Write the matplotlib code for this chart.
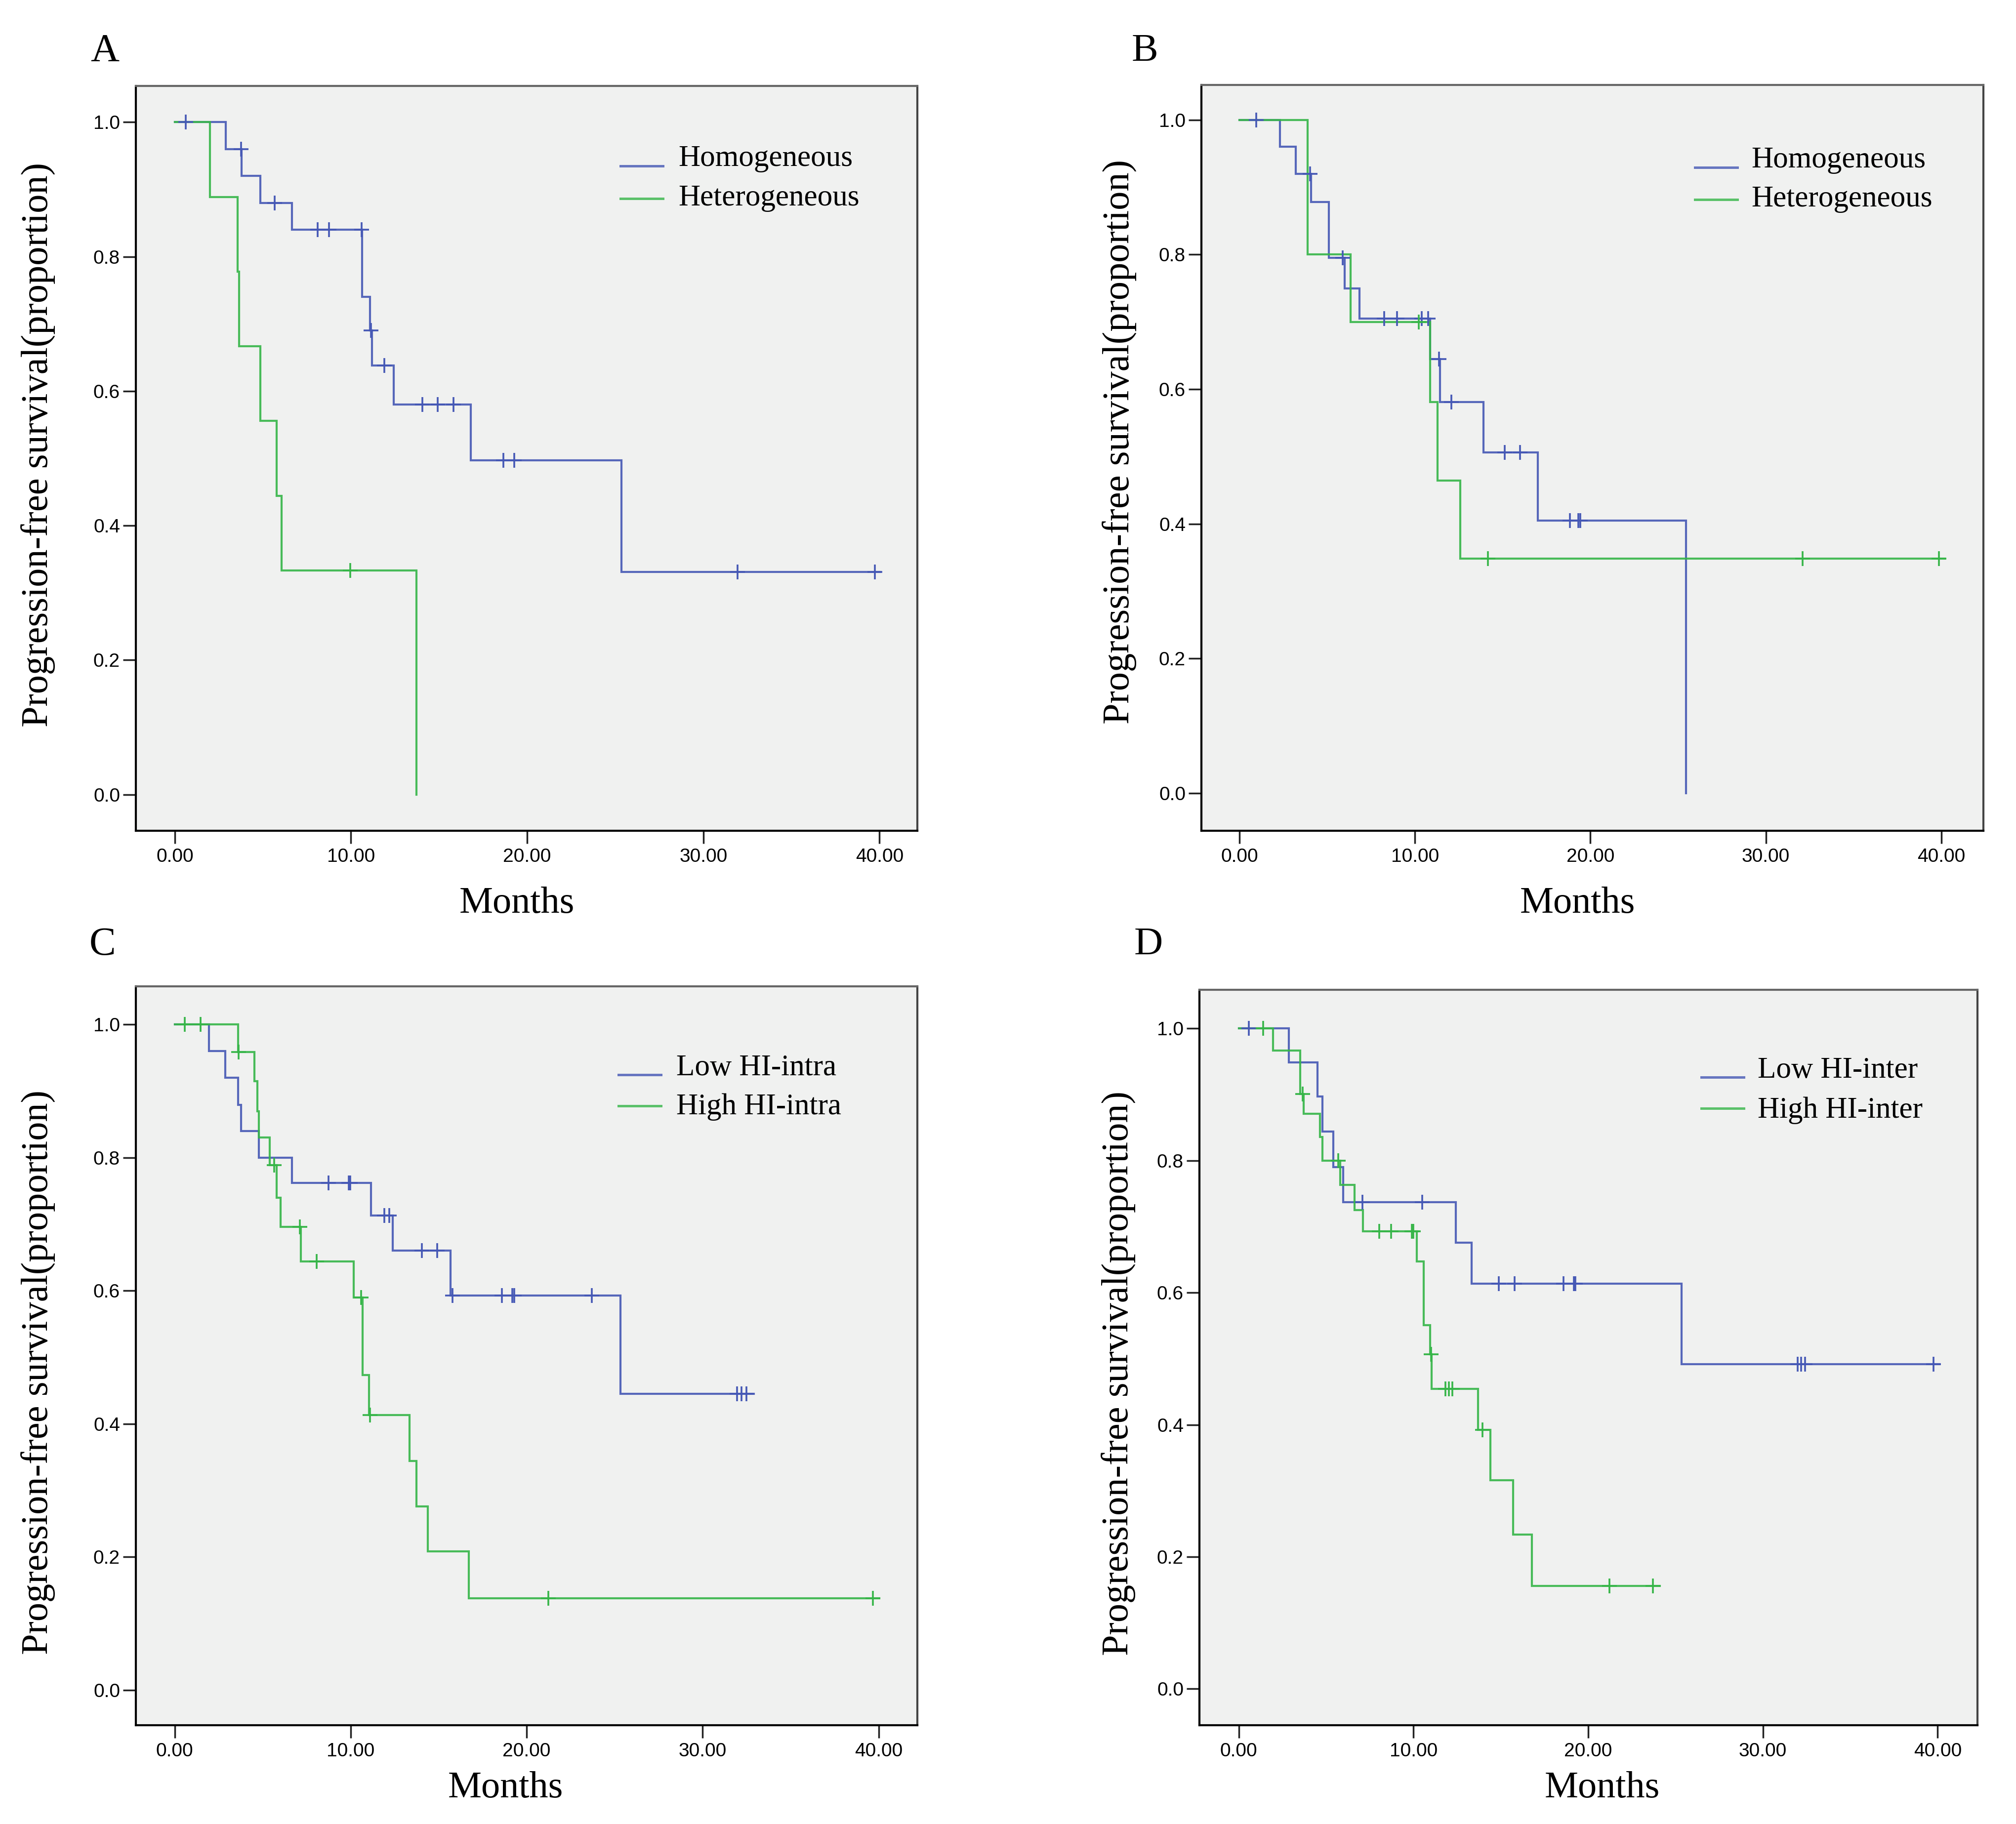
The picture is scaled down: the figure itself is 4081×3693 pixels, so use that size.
import numpy as np
import matplotlib
matplotlib.use("Agg")
import matplotlib.pyplot as plt

# ---------------- data ----------------
x_ticks = [0, 10, 20, 30, 40]
x_tick_labels = ["0.00", "10.00", "20.00", "30.00", "40.00"]
y_ticks = [0.0, 0.2, 0.4, 0.6, 0.8, 1.0]
y_tick_labels = ["0.0", "0.2", "0.4", "0.6", "0.8", "1.0"]

# Panel A
A_homo_t = [0, 2.9, 3.8, 4.87, 6.65, 10.63, 11.09, 11.2, 12.44, 16.79, 25.36]
A_homo_s = [1.0, 0.96, 0.92, 0.88, 0.84, 0.74, 0.69, 0.638, 0.58, 0.497, 0.331]
A_homo_end = 40.06
A_homo_cens = [0.63, 3.75, 5.67, 8.1, 8.74, 10.6, 11.15, 11.9, 14.04, 14.93, 15.82, 18.65, 19.28, 31.95, 39.74]
A_het_t = [0, 2.0, 3.58, 3.65, 4.87, 5.79, 6.05, 13.72]
A_het_s = [1.0, 0.889, 0.778, 0.667, 0.556, 0.444, 0.333, 0.0]
A_het_end = 13.72
A_het_cens = [9.97]

# Panel B
B_homo_t = [0, 2.32, 3.22, 4.09, 5.1, 6.0, 6.84, 10.87, 11.42, 13.91, 16.99, 25.45]
B_homo_s = [1.0, 0.96, 0.92, 0.878, 0.795, 0.75, 0.705, 0.645, 0.581, 0.506, 0.405, 0.0]
B_homo_end = 25.45
B_homo_cens = [0.96, 4.03, 5.88, 8.26, 8.99, 10.38, 10.75, 11.38, 12.09, 15.13, 16.0, 18.84, 19.3, 19.42]
B_het_t = [0, 3.88, 6.32, 10.87, 11.28, 12.58]
B_het_s = [1.0, 0.80, 0.70, 0.581, 0.464, 0.348]
B_het_end = 40.2
B_het_cens = [10.23, 14.17, 32.1, 39.86]

# Panel C
C_low_t = [0, 1.95, 2.87, 3.61, 3.76, 4.79, 6.65, 11.16, 12.39, 15.66, 25.33]
C_low_s = [1.0, 0.96, 0.92, 0.879, 0.84, 0.80, 0.762, 0.713, 0.66, 0.593, 0.445]
C_low_end = 32.9
C_low_cens = [8.75, 9.9, 9.98, 11.9, 12.2, 14.03, 14.92, 15.78, 18.59, 19.19, 19.3, 23.7, 31.96, 32.2, 32.5]
C_high_t = [0, 3.59, 4.53, 4.7, 4.79, 5.39, 5.8, 6.02, 7.17, 10.18, 10.67, 11.04, 13.34, 13.74, 14.37, 16.72]
C_high_s = [1.0, 0.959, 0.915, 0.87, 0.83, 0.789, 0.74, 0.696, 0.644, 0.59, 0.473, 0.413, 0.344, 0.276, 0.208, 0.138]
C_high_end = 40.05
C_high_cens = [0.57, 1.46, 3.64, 5.65, 7.11, 8.06, 10.58, 11.1, 21.23, 39.67]

# Panel D
D_low_t = [0, 2.86, 4.5, 4.79, 5.4, 5.99, 12.41, 13.34, 25.34]
D_low_s = [1.0, 0.949, 0.897, 0.844, 0.79, 0.737, 0.676, 0.614, 0.492]
D_low_end = 40.09
D_low_cens = [0.58, 7.07, 10.51, 14.89, 15.8, 18.6, 19.18, 19.27, 32.0, 32.2, 32.4, 39.77]
D_high_t = [0, 1.96, 3.53, 3.71, 4.64, 4.79, 5.81, 6.63, 7.12, 10.19, 10.6, 10.95, 11.04, 13.69, 14.39, 15.71, 16.79]
D_high_s = [1.0, 0.967, 0.901, 0.871, 0.836, 0.80, 0.763, 0.725, 0.693, 0.647, 0.551, 0.507, 0.454, 0.392, 0.316, 0.234, 0.156]
D_high_end = 24.09
D_high_cens = [1.4, 3.65, 5.69, 8.03, 8.73, 9.9, 9.99, 11.0, 11.83, 12.03, 12.23, 13.96, 21.23, 23.71]

panel_letters = ["A", "B", "C", "D"]
legend_A = ["Homogeneous", "Heterogeneous"]
legend_B = ["Homogeneous", "Heterogeneous"]
legend_C = ["Low HI-intra", "High HI-intra"]
legend_D = ["Low HI-inter", "High HI-inter"]
x_label = "Months"
y_label = "Progression-free survival(proportion)"

# ---------------- style ----------------
W, H = 4081, 3693
DPI = 100
BLUE = "#4558b5"
GREEN = "#36b548"
SERIF = ["Liberation Serif", "DejaVu Serif"]
SANS = ["Liberation Sans", "DejaVu Sans"]

fig = plt.figure(figsize=(W / DPI, H / DPI), dpi=DPI)
fig.patch.set_facecolor("white")


def rect(l, t, r, b):
    return [l / W, 1 - b / H, (r - l) / W, (b - t) / H]


def fx(px):
    return px / W


def fy(py):
    return 1 - py / H


def km(ax, t, s, end, cens, color):
    tt = list(t) + [end]
    ss = list(s) + [s[-1]]
    ax.step(tt, ss, where="post", color=color, lw=3.0, alpha=0.9,
            solid_joinstyle="miter", zorder=3)
    t_arr = np.asarray(t)
    s_arr = np.asarray(s)
    cy = [s_arr[np.searchsorted(t_arr, c, side="right") - 1] for c in cens]
    ax.plot(cens, cy, ls="none", marker="+", ms=22, mew=2.6, color=color,
            zorder=4)


# leg = (line x0, line x1, line y1, line y2, text x, text baseline y1, text baseline y2)
panels = [
    dict(rect=rect(275, 174, 1857, 1682), xlim=(-2.21, 42.15), ylim=(-0.054, 1.054),
         curves=[(A_homo_t, A_homo_s, A_homo_end, A_homo_cens, BLUE),
                 (A_het_t, A_het_s, A_het_end, A_het_cens, GREEN)],
         legend=legend_A, leg=(1256, 1342, 336, 402, 1373, 336, 416),
         letter=(212, 104), ylab=(78, 900), xlab=(1046, 1848)),
    dict(rect=rect(2432, 172, 4015, 1682), xlim=(-2.17, 42.4), ylim=(-0.056, 1.052),
         curves=[(B_homo_t, B_homo_s, B_homo_end, B_homo_cens, BLUE),
                 (B_het_t, B_het_s, B_het_end, B_het_cens, GREEN)],
         legend=legend_B, leg=(3431, 3517, 339, 404, 3545, 339, 418),
         letter=(2317, 104), ylab=(2267, 894), xlab=(3193, 1848)),
    dict(rect=rect(275, 1997, 1857, 3493), xlim=(-2.21, 42.2), ylim=(-0.053, 1.0575),
         curves=[(C_low_t, C_low_s, C_low_end, C_low_cens, BLUE),
                 (C_high_t, C_high_s, C_high_end, C_high_cens, GREEN)],
         legend=legend_C, leg=(1252, 1338, 2176, 2239, 1369, 2177, 2256),
         letter=(208, 1913), ylab=(78, 2779), xlab=(1023, 3639)),
    dict(rect=rect(2428, 2004, 4003, 3493), xlim=(-2.25, 42.28), ylim=(-0.055, 1.0587),
         curves=[(D_low_t, D_low_s, D_low_end, D_low_cens, BLUE),
                 (D_high_t, D_high_s, D_high_end, D_high_cens, GREEN)],
         legend=legend_D, leg=(3444, 3530, 2181, 2244, 3558, 2182, 2263),
         letter=(2325, 1913), ylab=(2265, 2780), xlab=(3243, 3639)),
]

for i, p in enumerate(panels):
    ax = fig.add_axes(p["rect"])
    ax.set_facecolor("#f0f1f0")
    for (t, s, end, cens, col) in p["curves"]:
        km(ax, t, s, end, cens, col)
    ax.set_xlim(*p["xlim"])
    ax.set_ylim(*p["ylim"])
    ax.set_xticks(x_ticks)
    ax.set_xticklabels(x_tick_labels, fontfamily=SANS, fontsize=28)
    ax.set_yticks(y_ticks)
    ax.set_yticklabels(y_tick_labels, fontfamily=SANS, fontsize=28)
    ax.tick_params(axis="x", direction="out", length=19, width=2.5, pad=6,
                   color="#222222")
    ax.tick_params(axis="y", direction="out", length=19, width=2.5, pad=4,
                   color="#222222")
    ax.spines["left"].set_color("black")
    ax.spines["bottom"].set_color("black")
    ax.spines["left"].set_linewidth(3.0)
    ax.spines["bottom"].set_linewidth(3.0)
    ax.spines["top"].set_color("#666666")
    ax.spines["right"].set_color("#444444")
    ax.spines["top"].set_linewidth(3.0)
    ax.spines["right"].set_linewidth(3.0)

    # legend (manual, SPSS style)
    x0, x1, ly1, ly2, xt, ty1, ty2 = p["leg"]
    rows = [(ly1, ty1, BLUE, p["legend"][0]), (ly2, ty2, GREEN, p["legend"][1])]
    for (yy, ty, col, lab) in rows:
        fig.add_artist(plt.Line2D([fx(x0), fx(x1)], [fy(yy), fy(yy)],
                                  color=col, lw=3.6, alpha=0.8))
        fig.text(fx(xt), fy(ty), lab, fontfamily=SERIF, fontsize=44,
                 ha="left", va="baseline")

    lx, ly = p["letter"]
    fig.text(fx(lx), fy(ly), panel_letters[i], fontfamily=SERIF, fontsize=58,
             ha="center", va="center")
    yx, yy_ = p["ylab"]
    fig.text(fx(yx), fy(yy_), y_label, fontfamily=SERIF, fontsize=55,
             rotation=90, ha="center", va="center")
    xx, xy = p["xlab"]
    fig.text(fx(xx), fy(xy), x_label, fontfamily=SERIF, fontsize=55,
             ha="center", va="baseline")

fig.savefig("out.png", dpi=DPI, facecolor="white")
